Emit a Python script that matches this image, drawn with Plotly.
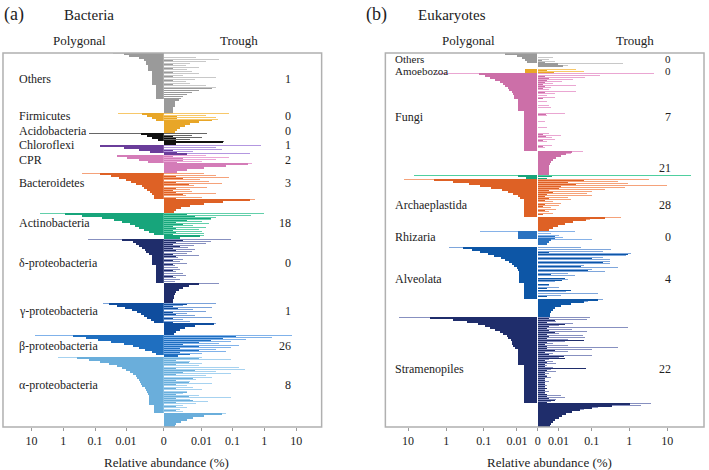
import math
import plotly.graph_objects as go

W, H = 709, 470

# ======================= Bacteria (panel a) =======================
BAC_GROUPS = ["Others", "Firmicutes", "Acidobacteria", "Chloroflexi", "CPR", "Bacteroidetes",
              "Actinobacteria", "δ-proteobacteria", "γ-proteobacteria", "β-proteobacteria",
              "α-proteobacteria"]
BAC_COUNTS = ["1", "0", "0", "1", "2", "3", "18", "0", "1", "26", "8"]

# pol = Polygonal mean, pol_hi = Polygonal upper value, tro = Trough mean, tro_hi = Trough upper value (%)
bac_oth_pol = [0.012, 0.0077, 0.0034, 0.0022, 0.0018, 0.0018, 0.0015, 0.0015, 0.0015, 0.0009, 0.0009,
               0.0009, 0.0009, 0.0009, 0.0009, 0.0009, 0.0005, 0.0005, 0.0005, 0.0005, 0.0005, 0.0005, 0.0005]
bac_oth_pol_hi = [0.027]
bac_oth_tro = [0, 0, 0, 0.0006, 0, 0.0006, 0, 0.0006, 0, 0.0006, 0, 0.0006, 0, 0.0006, 0, 0.0006, 0,
               0.021, 0.0083, 0.0045, 0.003, 0.002, 0.0017, 0.0014, 0.0009, 0.0009, 0.0009, 0.0006, 0.0006, 0.0006]
bac_oth_tro_hi = [0, 0, 0.0065, 0.037, 0.014, 0.004, 0.0028, 0.0083, 0.003, 0.0047, 0.0083, 0.002, 0.03,
                  0.006, 0.0028, 0.004, 0.014, 0.03]

bac_fir_pol = [0.0026, 0.0016, 0.001, 0.0005]
bac_fir_pol_hi = [0.019]
bac_fir_tro = [0, 0.0011, 0.0011, 0.021, 0.008, 0.004, 0.0025, 0.0015, 0.0011, 0.0008]
bac_fir_tro_hi = [0.077, 0.014, 0.03, 0.035]

bac_aci_pol = [0.003, 0.0016, 0.0009, 0.0004]
bac_aci_pol_hi = [0.15]
bac_aci_tro = [0, 0.0006, 0.001, 0.001, 0.05, 0.001]
bac_aci_tro_hi = [0.015, 0.0047, 0.01, 0.004, 0.054]

bac_chl_pol = [0.07, 0.012, 0.0034, 0.0012]
bac_chl_pol_hi = []
bac_chl_tro = [0, 0, 0.0006, 0.0011, 0.003]
bac_chl_tro_hi = [0.78, 0.03, 0.045, 0.005, 0.36]

bac_cpr_pol = [0.02, 0.009, 0.0035, 0.0015]
bac_cpr_pol_hi = []
bac_cpr_tro = [0.0006, 0.002, 0.002, 0.0011, 0.3, 0.06, 0.012, 0.003, 0.0011]
bac_cpr_tro_hi = [0.014, 0.078, 0.03, 0.01, 0.4]

bac_bac_pol = [0.072, 0.03, 0.017, 0.0097, 0.0066, 0.0045, 0.0028, 0.0022, 0.0016, 0.0012, 0.0009,
               0.0007, 0.0007]
bac_bac_pol_hi = [0.26]
bac_bac_tro = [0, 0.001, 0.002, 0, 0.001, 0.0035, 0, 0.001, 0.0006, 0.001, 0.002, 0, 0.001,
               0.35, 0.05, 0.012, 0.004, 0.0017, 0.001, 0.0007]
bac_bac_tro_hi = [0.012, 0.03, 0.077, 0.0086, 0.017, 0.047, 0.0055, 0.015, 0.004, 0.0045, 0.03, 0.0027,
                  0.01, 0.5]

bac_act_pol = [0.9, 0.25, 0.06, 0.025, 0.014, 0.0075, 0.005, 0.0034, 0.0022, 0.0014, 0.0007]
bac_act_pol_hi = [5.5]
bac_act_tro = [0.003, 0.006, 0.02, 0.003, 0.001, 0.002, 0.0006, 0.001, 0.0006, 0.001, 0.0006, 0.009, 0.0015]
bac_act_tro_hi = [0.95, 0.38, 0.03, 0.02, 0.01, 0.017, 0.005, 0.014, 0.008, 0.01, 0.012, 0.012]

bac_del_pol = [0.014, 0.006, 0.0045, 0.0034, 0.0026, 0.0021, 0.0018, 0.0014, 0.001, 0.001, 0.001, 0.001,
               0.001, 0.0005, 0.0005, 0.0005, 0.0005, 0.0005, 0.0005, 0.0005, 0.0005, 0.0005]
bac_del_pol_hi = [0.17]
bac_del_tro = [0.002, 0.001, 0.0006, 0.0015, 0.0006, 0.001, 0, 0.0006, 0.001, 0, 0.0006, 0, 0.0006, 0, 0,
               0.0006, 0, 0, 0.0006, 0, 0, 0,
               0.008, 0.0035, 0.002, 0.0014, 0.001, 0.0008, 0.0007, 0.0007, 0.0006, 0.0006]
bac_del_tro_hi = [0.09, 0.02, 0.014, 0.0055, 0.0034, 0.006, 0.0045, 0.003, 0.0083, 0.0012, 0.002, 0.0016,
                  0.003, 0.0008, 0.0012, 0.0016, 0.001, 0.002, 0.0028, 0.001, 0.0016, 0.0008, 0.037]

bac_gam_pol = [0.035, 0.02, 0.011, 0.0065, 0.0043, 0.003, 0.0022, 0.0016, 0.0011, 0.0007]
bac_gam_pol_hi = [0.058]
bac_gam_tro = [0.003, 0.0006, 0.0012, 0, 0.0006, 0.001, 0, 0.0006, 0, 0.0006,
               0.025, 0.006, 0.0025, 0.0015, 0.001, 0.0007]
bac_gam_tro_hi = [0.03, 0.002, 0.021, 0.005, 0.014, 0.003, 0.006, 0.021, 0.002, 0.004, 0.03]

bac_bet_pol = [0.49, 0.2, 0.08, 0.03, 0.012, 0.006, 0.0035, 0.002, 0.001, 0.0005]
bac_bet_pol_hi = [7.9]
bac_bet_tro = [0.13, 0.05, 0.02, 0.008, 0.002, 0.008, 0.0015, 0.008, 0.0015, 0.004, 0.0012]
bac_bet_tro_hi = [7.3, 1.75, 0.27, 0.09, 0.037, 0.16, 0.09, 0.03, 0.06, 0.01]

bac_alp_pol = [0.38, 0.15, 0.072, 0.035, 0.02, 0.014, 0.0097, 0.0071, 0.0056, 0.0045,
               0.004, 0.0034, 0.0031, 0.0029, 0.0026, 0.0021, 0.0018, 0.0016, 0.0015, 0.0013,
               0.0013, 0.0013, 0.0013, 0.0013, 0.0007, 0.0007, 0.0007, 0.0007]
bac_alp_pol_hi = [1.5]
bac_alp_tro = [0.008, 0.001, 0.0035, 0.001, 0, 0.001, 0.006, 0.002, 0.001, 0, 0.005, 0.001, 0.0035, 0.001,
               0, 0.001, 0, 0.003, 0.001, 0.0035, 0.001, 0.005, 0.001, 0, 0.001, 0, 0.001, 0,
               0.045, 0.012, 0.005, 0.003, 0.0017, 0.001, 0.0008]
bac_alp_tro_hi = [0.0105, 0.09, 0.004, 0.01, 0.008, 0.16, 0.25, 0.03, 0.09, 0.014, 0.021, 0.0065, 0.004,
                  0.021, 0.003, 0.005, 0.01, 0.003, 0.002, 0.008, 0.09, 0.004, 0.016, 0.0065, 0.002,
                  0.003, 0.0015, 0.002, 0.06]

# ======================= Eukaryotes (panel b) =======================
EUK_GROUPS = ["Others", "Amoebozoa", "Fungi", "", "Archaeplastida", "Rhizaria", "Alveolata", "Stramenopiles"]
EUK_COUNTS = ["0", "0", "7", "21", "28", "0", "4", "22"]

euk_oth_pol = [0.024, 0.0093, 0.0059, 0.0045, 0.0033]
euk_oth_pol_hi = []
euk_oth_tro = [0, 0, 0, 0.001, 0.002, 0.009, 0.014]
euk_oth_tro_hi = [0, 0, 0.006, 0.004, 0.007, 0.66, 0.02]

euk_amo_pol = [0, 0.0045, 0.0045]
euk_amo_pol_hi = []
euk_amo_tro = [0, 0.003, 0.0065]
euk_amo_tro_hi = [0, 0.035, 0.06]

euk_fun_pol = [0.13, 0.093, 0.064, 0.047, 0.035, 0.027, 0.024, 0.02, 0.018, 0.015, 0.013, 0.012, 0.012,
               0.0085, 0.0085, 0.0085, 0.0085, 0.0085, 0.0085,
               0.0047, 0.0047, 0.0047, 0.0047, 0.0047, 0.0047, 0.0047, 0.0047, 0.0047, 0.0047,
               0.0047, 0.0047, 0.0047, 0.0047, 0.0047, 0.0047, 0.0047, 0.0047, 0.0047, 0.0047]
euk_fun_pol_hi = [1.8]
euk_fun_tro = [0, 0.002, 0.004, 0.003, 0.002, 0.0014, 0.002, 0.0014, 0, 0.002,
               0, 0, 0.0014, 0, 0, 0, 0, 0, 0, 0,
               0.0025, 0, 0, 0, 0, 0, 0, 0, 0, 0,
               0.0014, 0.0025, 0, 0.0014, 0, 0, 0.0014, 0, 0,
               0.027, 0.018, 0.012, 0.008, 0.006, 0.005, 0.0045, 0.004, 0.004, 0.004, 0.004, 0.004]
euk_fun_tro_hi = [4.5, 0.16, 0.064, 0.03, 0.013, 0.0059, 0.036, 0.005, 0.004, 0.036,
                  0.007, 0.003, 0.0071, 0, 0.003, 0, 0.004, 0.005, 0, 0,
                  0.016, 0.003, 0, 0, 0.002, 0, 0, 0.003, 0, 0,
                  0.0038, 0.0125, 0.0055, 0.0071, 0.003, 0, 0.0055, 0.002, 0,
                  0.057, 0.025]

euk_grn_pol = [0.0085, 0.004]
euk_grn_pol_hi = [6.9]
euk_grn_tro = [0.0052, 0.003]
euk_grn_tro_hi = [42]

euk_arc_pol = [2.0, 0.66, 0.25, 0.12, 0.06, 0.029, 0.019, 0.013, 0.0085, 0.0071,
               0.0047, 0.0047, 0.0047, 0.0047, 0.0047, 0.0047, 0.0047, 0.0047, 0.0047]
euk_arc_pol_hi = [12.7]
euk_arc_tro = [0.06, 0.02, 0.035, 0.012, 0.01, 0.004, 0.006, 0.003, 0.002, 0.004, 0.002, 0, 0.002, 0.0014,
               0, 0.002, 0, 0.0014, 0,
               0.22, 0.07, 0.03, 0.016, 0.009, 0.006, 0.004]
euk_arc_tro_hi = [3.2, 0.5, 0.93, 9.4, 0.75, 0.22, 0.1, 0.072, 0.1, 0.02, 0.026, 0.006, 0.012, 0.01, 0.005,
                  0.008, 0.004, 0.006, 0,
                  0.6, 0.09]

euk_rhi_pol = [0.0085, 0.0085, 0.0085, 0.0085]
euk_rhi_pol_hi = [0.12]
euk_rhi_tro = [0, 0, 0.007, 0.007, 0.005, 0.004, 0.003, 0]
euk_rhi_tro_hi = [0.034, 0.005, 0.01, 0.014, 0.1]

euk_alv_pol = [0.35, 0.2, 0.12, 0.077, 0.05, 0.033, 0.024, 0.018, 0.014, 0.012, 0.01, 0.0085,
               0.0078, 0.0078, 0.0078, 0.0078, 0.0078, 0.0078,
               0.0047, 0.0047, 0.0047, 0.0047, 0.0047, 0.0047, 0.0047, 0.0047]
euk_alv_pol_hi = [0.84]
euk_alv_tro = [0, 0, 0.004, 0.9, 0, 0.1, 0, 0.2, 0, 0.05, 0, 0.08, 0, 0.005, 0, 0.016, 0.013, 0, 0.004, 0,
               0.003, 0.026, 0, 0, 0.003, 0,
               0.15, 0.06, 0.025, 0.012, 0.0074, 0.006, 0.0047, 0.0045, 0.0042]
euk_alv_tro_hi = [0.05, 0.33, 0.2, 1.1, 0.8, 0.2, 0.3, 0.3, 0.3, 0.06, 0.5, 0.1, 0.22, 0.02, 0.034, 0,
                  0.02, 0.007, 0, 0.004, 0.01, 0, 0.018, 0.15, 0.012, 0,
                  0.2, 0.08]

euk_str_pol = [2.65, 0.66, 0.27, 0.14, 0.093, 0.064, 0.047, 0.035, 0.027, 0.021, 0.019, 0.016, 0.015,
               0.014, 0.013, 0.011,
               0.0085, 0.0085, 0.0085, 0.0085, 0.0085, 0.0085, 0.0085, 0.0085,
               0.0047, 0.0047, 0.0047, 0.0047, 0.0047, 0.0047, 0.0047, 0.0047, 0.0047, 0.0047,
               0.0047, 0.0047, 0.0047, 0.0047, 0.0047, 0.0047, 0.0047, 0.0047, 0.0047]
euk_str_pol_hi = [17]
euk_str_tro = [0.004, 0.007, 0.003, 0.016, 0.004, 0.003, 0.004, 0.0074, 0.003, 0.004,
               0.003, 0.06, 0.003, 0.002, 0.003, 0.003, 0.0074, 0.002, 0.004, 0.015,
               0.016, 0.002, 0.003, 0.002, 0.002, 0.07, 0.003, 0.002, 0.002, 0.003,
               0.002, 0.002, 0.002, 0.002, 0.002, 0.003, 0.002, 0.002, 0.003, 0.003,
               0.004, 0.0074, 0.003,
               1.0, 0.34, 0.1, 0.045, 0.027, 0.018, 0.013, 0.01, 0.0074, 0.006, 0.005, 0.0045]
euk_str_tro_hi = [0.086, 0.072, 0.008, 0.03, 0.01, 0.93, 0.027, 0.072, 0.01, 0.057,
                  0.065, 0.02, 0.016, 0.006, 0.02, 0.5, 0.1, 0.02, 0.006, 0.1,
                  0.01, 0.004, 0.006, 0.008, 0.003, 0.006, 0.005, 0.008, 0.004, 0.003,
                  0.005, 0.002, 0.004, 0.002, 0.003, 0.002, 0.002, 0.004, 0.002, 0.012,
                  0.016, 0.008, 0.005,
                  3.6, 2.0, 0.15, 0.06]

# ======================= styling =======================
BAC_COLORS = ["#9a9a9a", "#e8a628", "#111111", "#6a3d9a", "#d47cb8", "#de6125", "#17a57b",
              "#1f2d6b", "#0f4d9e", "#1f6fc0", "#6aaedb"]
BAC_LIGHT = ["#c8c8c8", "#f7c86a", "#666666", "#b397e0", "#eba6d6", "#f5a27a", "#62cfaa",
             "#8790c0", "#7aa2da", "#80b2ea", "#a6d2f0"]
EUK_COLORS = ["#9a9a9a", "#e8a628", "#cc6fa8", "#17a57b", "#de6125", "#2a72c0", "#0d56a6", "#1f2d6b"]
EUK_LIGHT = ["#c8c8c8", "#f7c86a", "#eaa6d2", "#4fcf9f", "#f5a27a", "#86b2e8", "#7ea6dc", "#8790c0"]

BAC_DATA = [
    (bac_oth_pol, bac_oth_pol_hi, bac_oth_tro, bac_oth_tro_hi),
    (bac_fir_pol, bac_fir_pol_hi, bac_fir_tro, bac_fir_tro_hi),
    (bac_aci_pol, bac_aci_pol_hi, bac_aci_tro, bac_aci_tro_hi),
    (bac_chl_pol, bac_chl_pol_hi, bac_chl_tro, bac_chl_tro_hi),
    (bac_cpr_pol, bac_cpr_pol_hi, bac_cpr_tro, bac_cpr_tro_hi),
    (bac_bac_pol, bac_bac_pol_hi, bac_bac_tro, bac_bac_tro_hi),
    (bac_act_pol, bac_act_pol_hi, bac_act_tro, bac_act_tro_hi),
    (bac_del_pol, bac_del_pol_hi, bac_del_tro, bac_del_tro_hi),
    (bac_gam_pol, bac_gam_pol_hi, bac_gam_tro, bac_gam_tro_hi),
    (bac_bet_pol, bac_bet_pol_hi, bac_bet_tro, bac_bet_tro_hi),
    (bac_alp_pol, bac_alp_pol_hi, bac_alp_tro, bac_alp_tro_hi),
]
EUK_DATA = [
    (euk_oth_pol, euk_oth_pol_hi, euk_oth_tro, euk_oth_tro_hi),
    (euk_amo_pol, euk_amo_pol_hi, euk_amo_tro, euk_amo_tro_hi),
    (euk_fun_pol, euk_fun_pol_hi, euk_fun_tro, euk_fun_tro_hi),
    (euk_grn_pol, euk_grn_pol_hi, euk_grn_tro, euk_grn_tro_hi),
    (euk_arc_pol, euk_arc_pol_hi, euk_arc_tro, euk_arc_tro_hi),
    (euk_rhi_pol, euk_rhi_pol_hi, euk_rhi_tro, euk_rhi_tro_hi),
    (euk_alv_pol, euk_alv_pol_hi, euk_alv_tro, euk_alv_tro_hi),
    (euk_str_pol, euk_str_pol_hi, euk_str_tro, euk_str_tro_hi),
]

# axis origin ("0") of each panel's log(x + c) abundance scale
BAC_C = 0.0007
EUK_C = 0.004

FONT = "Liberation Serif"
TXT = "#222222"

# layout, in pixels
BAC_FRAME = (3, 164.5, 323)      # left, centre, right
EUK_FRAME = (387, 540, 707)
FRAME_TOP, FRAME_BOT = 53, 427
BAC_LABEL_Y = [79, 116, 131, 145, 160, 183, 223, 263, 311, 346, 385]
EUK_LABEL_Y = [59, 71, 117, 168, 205, 237, 279, 369]


def fx(px):
    return px / W


def fy(py):
    return 1 - py / H


def panel_traces(data, colors, lights, c, xl, xr, ya):
    # keys: lh = left upper lines, l = left bars, rh = right upper lines,
    #       rs = right means of shared OTUs (thin), r = right bars of trough-only OTUs
    keys = ("lh", "l", "rh", "rs", "r")
    sets = {k: ([], [], []) for k in keys}

    def add(key, v, y, col):
        if v and v > 0:
            sets[key][0].append(v)
            sets[key][1].append(y)
            sets[key][2].append(col)

    row = 0
    for (pol, pol_hi, tro, tro_hi), col, lt in zip(data, colors, lights):
        for i, v in enumerate(pol_hi):
            add("lh", v, row + i, lt)
        for i, v in enumerate(pol):
            add("l", v, row + i, col)
        for i, v in enumerate(tro_hi):
            add("rh", v, row + i, lt)
        for i, v in enumerate(tro):
            add("rs" if i < len(pol) else "r", v, row + i, col)
        row += len(tro)

    # (axis, bar thickness in rows, offset within the row)
    geom = {"lh": (xl, 0.5, -0.5), "l": (xl, 1.0, None), "rh": (xr, 0.5, -0.5),
            "rs": (xr, 0.5, 0.0), "r": (xr, 1.0, None)}
    traces = []
    for key in keys:
        xa, wd, off = geom[key]
        xs, ys, cs = sets[key]
        traces.append(go.Bar(x=xs, y=ys, orientation="h", base=c, width=wd, offset=off,
                             marker=dict(color=cs, line=dict(width=0)),
                             xaxis=xa, yaxis=ya, showlegend=False, hoverinfo="skip"))
    return traces, row


fig = go.Figure()
bac_tr, bac_rows = panel_traces(BAC_DATA, BAC_COLORS, BAC_LIGHT, BAC_C, "x", "x2", "y")
euk_tr, euk_rows = panel_traces(EUK_DATA, EUK_COLORS, EUK_LIGHT, EUK_C, "x3", "x4", "y2")
for t in bac_tr + euk_tr:
    fig.add_trace(t)


def axis_range_px(c, px_per_decade, px):
    return math.log10(c) + px / px_per_decade


tickfont = dict(family=FONT, size=12, color=TXT)
common = dict(type="log", showgrid=False, zeroline=False, showline=False, ticks="outside",
              ticklen=3, tickwidth=1, tickcolor="#9a9a9a", tickfont=tickfont, fixedrange=True)

BAC_DEC = 32.0    # px per decade
EUK_DEC = 38.3

bl, bc, br = BAC_FRAME
el, ec, er = EUK_FRAME
TICKS_L = [10, 1, 0.1, 0.01]
TICKS_R = [0.01, 0.1, 1, 10]

fig.update_layout(
    width=W, height=H, margin=dict(l=0, r=0, t=0, b=0),
    paper_bgcolor="white", plot_bgcolor="white", barmode="overlay", bargap=0,
    xaxis=dict(domain=[fx(bl), fx(bc)], anchor="y",
               range=[axis_range_px(BAC_C, BAC_DEC, bc - bl), math.log10(BAC_C)],
               tickvals=[t + BAC_C for t in TICKS_L] + [BAC_C * 1.0005],
               ticktext=[str(t) for t in TICKS_L] + ["0"], **common),
    xaxis2=dict(domain=[fx(bc), fx(br)], anchor="y",
                range=[math.log10(BAC_C), axis_range_px(BAC_C, BAC_DEC, br - bc)],
                tickvals=[t + BAC_C for t in TICKS_R], ticktext=[str(t) for t in TICKS_R], **common),
    yaxis=dict(domain=[fy(FRAME_BOT), fy(FRAME_TOP)], anchor="x", range=[bac_rows - 0.5, -0.5],
               visible=False, fixedrange=True),
    xaxis3=dict(domain=[fx(el), fx(ec)], anchor="y2",
                range=[axis_range_px(EUK_C, EUK_DEC, ec - el), math.log10(EUK_C)],
                tickvals=[t + EUK_C for t in TICKS_L] + [EUK_C * 1.0005],
                ticktext=[str(t) for t in TICKS_L] + ["0"], **common),
    xaxis4=dict(domain=[fx(ec), fx(er)], anchor="y2",
                range=[math.log10(EUK_C), axis_range_px(EUK_C, EUK_DEC, er - ec)],
                tickvals=[t + EUK_C for t in TICKS_R], ticktext=[str(t) for t in TICKS_R], **common),
    yaxis2=dict(domain=[fy(FRAME_BOT), fy(FRAME_TOP)], anchor="x3", range=[euk_rows - 0.5, -0.5],
                visible=False, fixedrange=True),
)

# frames
for x0, x1 in ((bl, br), (el, er)):
    fig.add_shape(type="rect", xref="paper", yref="paper", x0=fx(x0), x1=fx(x1),
                  y0=fy(FRAME_BOT), y1=fy(FRAME_TOP), line=dict(color="#b0b0b0", width=1.5),
                  fillcolor="rgba(0,0,0,0)", layer="above")


def text(s, x, y, size=13, xanchor="center"):
    fig.add_annotation(text=s, x=fx(x), y=fy(y), xref="paper", yref="paper", showarrow=False,
                       xanchor=xanchor, yanchor="middle", font=dict(family=FONT, size=size, color=TXT))


# headers
text("(a)", 2, 15, 18, "left")
text("Bacteria", 62, 15, 15, "left")
text("Polygonal", 80, 40, 13)
text("Trough", 240, 40, 13)
text("(b)", 366, 15, 18, "left")
text("Eukaryotes", 418, 15, 15, "left")
text("Polygonal", 470, 40, 13)
text("Trough", 638, 40, 13)
text("Relative abundance (%)", 167, 462, 13)
text("Relative abundance (%)", 552, 462, 13)

for name, cnt, y in zip(BAC_GROUPS, BAC_COUNTS, BAC_LABEL_Y):
    text(name, 17, y, 12, "left")
    text(cnt, 294, y, 12, "right")
for i, (name, cnt, y) in enumerate(zip(EUK_GROUPS, EUK_COUNTS, EUK_LABEL_Y)):
    size = 11 if i < 2 else 12
    if name:
        text(name, 395, y, size, "left")
    text(cnt, 676, y, size, "right")

# the page body gets no margin so the 709x470 figure fills the window exactly
fig.write_html("out.html", config={"displayModeBar": False},
               post_script="document.body.style.margin='0';document.body.style.overflow='hidden';")
